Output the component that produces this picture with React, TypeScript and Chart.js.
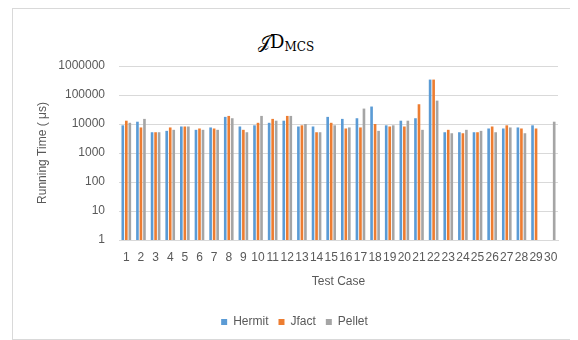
import React, { useEffect, useRef } from "react";
import { Chart, registerables } from "chart.js";

Chart.register(...registerables);

// Test cases along the category axis
const testCases = [
  "1", "2", "3", "4", "5", "6", "7", "8", "9", "10",
  "11", "12", "13", "14", "15", "16", "17", "18", "19", "20",
  "21", "22", "23", "24", "25", "26", "27", "28", "29", "30",
];

// Running times in microseconds per reasoner
const hermit = [
  9000, 12000, 5200, 5800, 8200, 6300, 7600, 17600, 8200, 9000,
  11000, 13000, 8200, 8200, 17600, 15000, 15800, 40000, 9000, 13000,
  15800, 340000, 5200, 5200, 5200, 7000, 7000, 7600, 9000, null,
];
const jfact = [
  13000, 7600, 5200, 7600, 8200, 7000, 7000, 19000, 6300, 11000,
  15000, 19000, 9000, 5200, 11000, 7000, 7600, 10000, 8200, 8200,
  48000, 340000, 6300, 4800, 5200, 8200, 9000, 7000, 7000, null,
];
const pellet = [
  11000, 15000, 5200, 6300, 8200, 6300, 6300, 15800, 5200, 19000,
  13000, 19000, 10000, 5200, 9000, 7600, 34000, 5800, 9000, 13000,
  6300, 64000, 4800, 6300, 5800, 5200, 7600, 4800, null, 12000,
];

// Decade ticks on the log axis
const yTicks = [1, 10, 100, 1000, 10000, 100000, 1000000];

const TEXT = "#595959";
const GRID = "#d9d9d9";
const FONT = "'Liberation Sans', Arial, sans-serif";

export default function App() {
  const canvasRef = useRef<HTMLCanvasElement | null>(null);

  useEffect(() => {
    const canvas = canvasRef.current;
    if (!canvas) return;
    const chart = new Chart(canvas, {
      type: "bar",
      data: {
        labels: testCases,
        datasets: [
          { label: "Hermit", data: hermit, backgroundColor: "#5B9BD5" },
          { label: "Jfact", data: jfact, backgroundColor: "#ED7D31" },
          { label: "Pellet", data: pellet, backgroundColor: "#A5A5A5" },
        ],
      },
      options: {
        animation: false,
        responsive: false,
        maintainAspectRatio: false,
        datasets: {
          bar: { categoryPercentage: 0.72, barPercentage: 0.75, borderWidth: 0 },
        },
        layout: { padding: { left: 18, right: 16, top: 57, bottom: 1 } },
        plugins: {
          title: { display: false },
          tooltip: { enabled: false },
          legend: {
            position: "bottom",
            labels: {
              boxWidth: 6,
              boxHeight: 6,
              padding: 10,
              color: TEXT,
              font: { family: FONT, size: 12 },
            },
          },
        },
        scales: {
          x: {
            grid: { display: false, drawTicks: false },
            border: { display: true, color: GRID, width: 1 },
            ticks: {
              color: TEXT,
              font: { family: FONT, size: 12 },
              autoSkip: false,
              maxRotation: 0,
              minRotation: 0,
              padding: 10,
            },
            title: {
              display: true,
              text: "Test Case",
              color: TEXT,
              font: { family: FONT, size: 12 },
              padding: { top: 0, bottom: 17 },
            },
            afterFit: (s: any) => {
              s.height = 66;
            },
          },
          y: {
            type: "logarithmic",
            min: 1,
            max: 1000000,
            grid: { color: GRID, lineWidth: 1, drawTicks: false },
            border: { display: false },
            ticks: {
              color: TEXT,
              font: { family: FONT, size: 12 },
              padding: 14,
              callback: (v: any) => String(v),
            },
            afterBuildTicks: (s: any) => {
              s.ticks = yTicks.map((value) => ({ value }));
            },
            title: {
              display: true,
              text: "Running Time ( μs)",
              color: TEXT,
              font: { family: FONT, size: 12 },
              padding: { top: 4, bottom: 0 },
            },
            afterFit: (s: any) => {
              s.width = 88;
            },
          },
        },
      },
    });
    return () => chart.destroy();
  }, []);

  return (
    <div
      style={{
        position: "relative",
        marginLeft: 4,
        width: 563,
        height: 332,
        border: `1px solid ${GRID}`,
        boxSizing: "border-box",
        background: "#fff",
      }}
    >
      <div
        style={{
          position: "absolute",
          left: 245,
          top: 22,
          fontFamily: "'DejaVu Serif', 'Liberation Serif', serif",
          fontSize: 18,
          color: "#000",
          whiteSpace: "nowrap",
          lineHeight: "22px",
        }}
      >
        𝒥D<sub style={{ fontSize: 12, verticalAlign: "-3px" }}>MCS</sub>
      </div>
      <canvas
        ref={canvasRef}
        width={561}
        height={330}
        style={{ position: "absolute", left: 0, top: 0, width: 561, height: 330 }}
      />
    </div>
  );
}
